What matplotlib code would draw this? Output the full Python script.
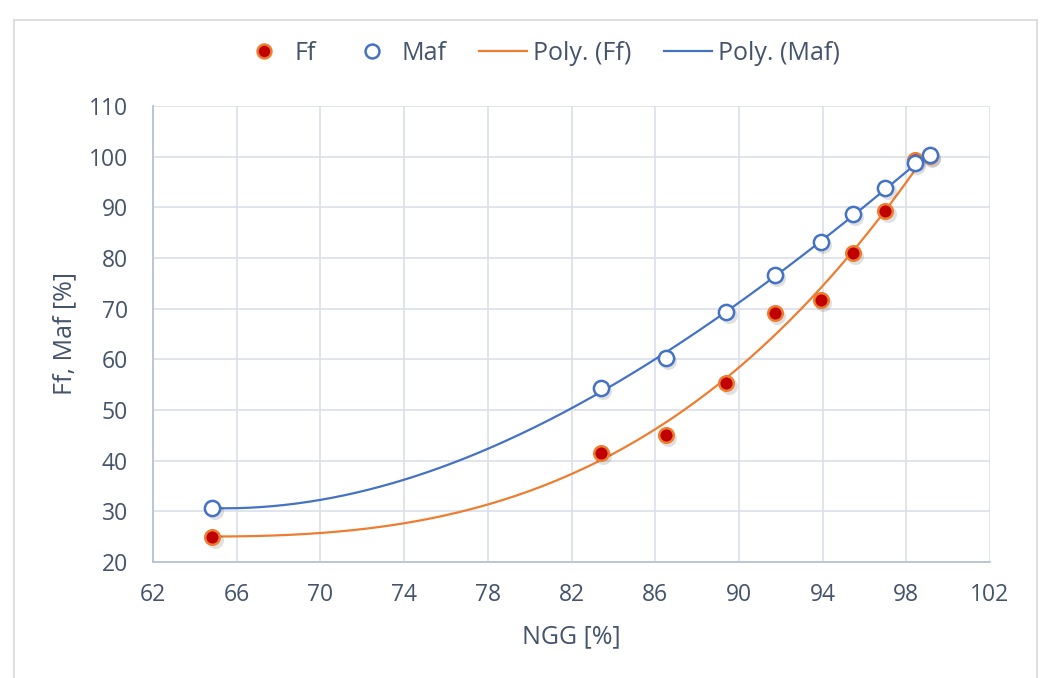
import numpy as np
import matplotlib
matplotlib.use("Agg")
import matplotlib.pyplot as plt
from matplotlib.lines import Line2D

plt.rcParams['font.family'] = ['Open Sans', 'DejaVu Sans']

# Data
ngg = [64.83, 83.39, 86.51, 89.40, 91.72, 93.90, 95.45, 97.00, 98.40, 99.12]
ff = [25.0, 41.5, 45.1, 55.3, 69.1, 71.7, 81.0, 89.3, 99.3, 100.1]
maf = [30.6, 54.3, 60.3, 69.3, 76.6, 83.2, 88.7, 93.8, 98.7, 100.3]
x_ticks = [62, 66, 70, 74, 78, 82, 86, 90, 94, 98, 102]
y_ticks = [20, 30, 40, 50, 60, 70, 80, 90, 100, 110]

TXT = '#44546a'
ORANGE = '#ed7d31'
BLUE = '#4472c4'
DARKRED = '#c00000'

W, H = 1043, 678
fig = plt.figure(figsize=(W / 100, H / 100), dpi=100)
ax = fig.add_axes([153 / W, 1 - 562 / H, (990 - 153) / W, (562 - 106) / H])

# outer border
for xs, ys in [([14, 14], [20, H + 5]), ([14, 1037], [20, 20]), ([1037, 1037], [20, H + 5])]:
    fig.add_artist(Line2D([x / W for x in xs], [1 - y / H for y in ys],
                          color='#d9d9d9', lw=1.2, transform=fig.transFigure))

x = np.array(ngg)
xs = np.linspace(x.min(), x.max(), 300)
pf = np.polyfit(x, ff, 3)
pm = np.polyfit(x, maf, 3)

ax.plot(xs, np.polyval(pf, xs), color=ORANGE, lw=1.6, zorder=3)
ax.plot(xs, np.polyval(pm, xs), color=BLUE, lw=1.6, zorder=3)

# soft shadows
ax.scatter(x + 0.12, np.array(ff) - 0.6, s=150, color='#000000', alpha=0.12, lw=0, zorder=3.5)
ax.scatter(x + 0.12, np.array(maf) - 0.6, s=150, color='#000000', alpha=0.12, lw=0, zorder=3.5)

ax.scatter(x, ff, s=110, facecolor=DARKRED, edgecolor=ORANGE, linewidths=1.8, zorder=4)
ax.scatter(x, maf, s=120, facecolor='white', edgecolor=BLUE, linewidths=1.8, zorder=5)

ax.set_xlim(62, 102)
ax.set_ylim(20, 110)
ax.set_xticks(x_ticks)
ax.set_yticks(y_ticks)
ax.grid(True, color='#dde2ea', lw=1.3)
ax.set_axisbelow(True)
for s in ['top', 'right']:
    ax.spines[s].set_visible(False)
for s in ['left', 'bottom']:
    ax.spines[s].set_color('#b8c2d2')
    ax.spines[s].set_linewidth(1.3)
ax.tick_params(length=0, labelsize=16.5, colors=TXT)
ax.tick_params(axis='y', pad=18)
ax.tick_params(axis='x', pad=15)

fig.text(571 / W, 1 - 637 / H, 'NGG [%]', ha='center', va='center', fontsize=18, color=TXT)
fig.text(65 / W, 1 - 334 / H, 'Ff, Maf [%]', ha='center', va='center', fontsize=18,
         color=TXT, rotation=90)

handles = [
    Line2D([], [], ls='none', marker='o', markersize=10, markerfacecolor=DARKRED,
           markeredgecolor=ORANGE, markeredgewidth=1.8),
    Line2D([], [], ls='none', marker='o', markersize=10, markerfacecolor='white',
           markeredgecolor=BLUE, markeredgewidth=1.8),
    Line2D([], [], color=ORANGE, lw=1.6),
    Line2D([], [], color=BLUE, lw=1.6),
]
labels = ['Ff', 'Maf', 'Poly. (Ff)', 'Poly. (Maf)']
leg = fig.legend(handles, labels, loc='center', bbox_to_anchor=(540 / W, 1 - 53 / H),
                 ncol=4, frameon=False, fontsize=18, handlelength=1.9, handletextpad=0.25,
                 columnspacing=1.3)
for t in leg.get_texts():
    t.set_color(TXT)

fig.savefig('out.png', dpi=100, facecolor='white')
